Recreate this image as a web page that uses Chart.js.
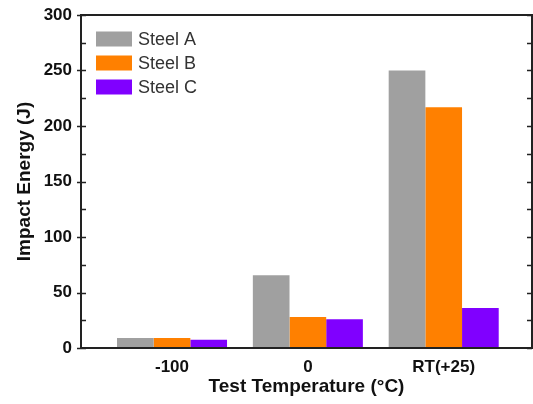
<!DOCTYPE html>
<html>
<head>
<meta charset="utf-8">
<script src="https://cdn.jsdelivr.net/npm/chart.js@4"></script>
<style>
	html, body { margin: 0; padding: 0; background: #fff; }
	#wrap { width: 533px; height: 404px; }
</style>
</head>
<body>
<div id="wrap"><canvas id="impact-chart"></canvas></div>
<script>
const categories = ["-100", "0", "RT(+25)"];
const steelA = [9, 65.5, 250];
const steelB = [9, 28, 217];
const steelC = [7.5, 26, 36];
const seriesNames = ["Steel A", "Steel B", "Steel C"];
const yTicks = [0, 50, 100, 150, 200, 250, 300];

const colors = ["#a0a0a0", "#ff8000", "#8000ff"];
const fontFamily = "'Liberation Sans', Arial, sans-serif";

function toPoints(values) {
	return values.map((value, index) => ({ x: index, y: value }));
}

// frame, inward ticks and the boxed legend in the top-left corner
const framePlugin = {
	id: "frame",
	afterDraw(chart) {
		const { ctx, chartArea } = chart;
		const yScale = chart.scales.y;
		ctx.save();
		ctx.strokeStyle = "#222";
		ctx.lineWidth = 2;
		ctx.strokeRect(chartArea.left, chartArea.top, chartArea.right - chartArea.left, chartArea.bottom - chartArea.top);
		ctx.lineWidth = 1.5;
		for (let v = 0; v <= 300; v += 25) {
			const y = Math.round(yScale.getPixelForValue(v)) + 0.5;
			const major = v % 50 === 0;
			ctx.beginPath();
			ctx.moveTo(chartArea.left - (major ? 4 : 0), y);
			ctx.lineTo(chartArea.left + 5, y);
			ctx.moveTo(chartArea.right - 5, y);
			ctx.lineTo(chartArea.right, y);
			ctx.stroke();
		}

		ctx.font = "18px " + fontFamily;
		ctx.textBaseline = "middle";
		chart.data.datasets.forEach((dataset, i) => {
			const cy = chartArea.top + 24 + i * 24;
			ctx.fillStyle = dataset.backgroundColor;
			ctx.fillRect(chartArea.left + 15, cy - 7.5, 36, 15);
			ctx.fillStyle = "#333";
			ctx.fillText(dataset.label, chartArea.left + 57, cy + 1);
		});
		ctx.restore();
	},
};

new Chart(document.getElementById("impact-chart"), {
	type: "bar",
	data: {
		datasets: [steelA, steelB, steelC].map((values, i) => ({
			label: seriesNames[i],
			data: toPoints(values),
			backgroundColor: colors[i],
			borderWidth: 0,
			categoryPercentage: 0.81,
			barPercentage: 1,
		})),
	},
	options: {
		responsive: true,
		maintainAspectRatio: false,
		animation: false,
		layout: { padding: { top: 15, right: 1, left: 0, bottom: 0 } },
		plugins: {
			legend: { display: false },
			tooltip: { enabled: false },
		},
		scales: {
			x: {
				type: "linear",
				min: -0.67,
				max: 2.65,
				offset: false,
				grid: { display: false, drawTicks: false, offset: false },
				border: { display: false },
				afterBuildTicks: (scale) => {
					scale.ticks = categories.map((_, i) => ({ value: i }));
				},
				afterFit: (scale) => {
					scale.height = 56;
					scale.paddingLeft = 0;
					scale.paddingRight = 0;
				},
				ticks: {
					padding: 9,
					color: "#111",
					font: { family: fontFamily, size: 17, weight: "bold" },
					callback: (value) => categories[value] ?? "",
				},
				title: {
					display: true,
					text: "Test Temperature (°C)",
					color: "#111",
					padding: { top: 0, bottom: 6 },
					font: { family: fontFamily, size: 19, weight: "bold" },
				},
			},
			y: {
				min: 0,
				max: 300,
				grid: { display: false, drawTicks: false },
				border: { display: false },
				afterBuildTicks: (scale) => {
					scale.ticks = yTicks.map((value) => ({ value }));
				},
				afterFit: (scale) => {
					scale.width = 81;
					scale.paddingTop = 0;
					scale.paddingBottom = 0;
				},
				ticks: {
					padding: 9,
					color: "#111",
					font: { family: fontFamily, size: 17, weight: "bold" },
				},
				title: {
					display: true,
					text: "Impact Energy (J)",
					color: "#111",
					padding: { top: 13, bottom: 0 },
					font: { family: fontFamily, size: 19, weight: "bold" },
				},
			},
		},
	},
	plugins: [framePlugin],
});
</script>
</body>
</html>
